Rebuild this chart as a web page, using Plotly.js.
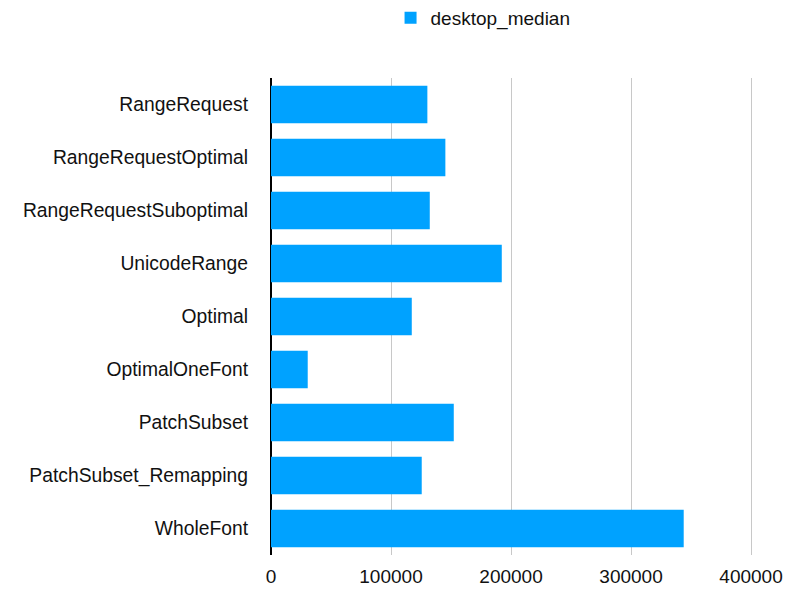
<!DOCTYPE html>
<html><head><meta charset="utf-8">
<script src="https://cdn.plot.ly/plotly-3.0.1.min.js"></script>
<style>html,body{margin:0;padding:0;background:#fff}#chart{width:789px;height:590px}</style>
</head><body><div id="chart"></div>
<script>
const categories = ["RangeRequest","RangeRequestOptimal","RangeRequestSuboptimal","UnicodeRange","Optimal","OptimalOneFont","PatchSubset","PatchSubset_Remapping","WholeFont"];
const desktopMedian = [130300,145300,132300,192300,117300,30600,152300,125600,343900];
const xTickVals = [0,100000,200000,300000,400000];
const xTickText = ["0","100000","200000","300000","400000"];

const trace = {
  type:'bar', orientation:'h', name:'desktop_median',
  y: categories, x: desktopMedian,
  marker:{color:'#00a2ff'},
  showlegend:true
};
const layout = {
  width:789, height:590,
  margin:{l:271, r:10, t:78, b:35, autoexpand:false},
  paper_bgcolor:'#fff', plot_bgcolor:'#fff',
  font:{family:'Liberation Sans, Arial, sans-serif', size:19, color:'#111'},
  bargap:0.29,
  showlegend:true,
  legend:{orientation:'h', xref:'container', yref:'container', x:0.495, xanchor:'left', y:1-18/590, yanchor:'middle', font:{size:19}},
  xaxis:{range:[0,423300], tickvals:xTickVals, ticktext:xTickText, showgrid:true, gridcolor:'#c8c8c8', gridwidth:1,
         zeroline:true, zerolinecolor:'#000', zerolinewidth:2, showline:false, ticks:'', ticklabelstandoff:8, tickfont:{size:19}, fixedrange:true},
  yaxis:{autorange:'reversed', categoryorder:'array', categoryarray:categories, showgrid:false, zeroline:false, showline:false,
         ticks:'', ticklabelstandoff:22, tickfont:{size:19.3}}
};
Plotly.newPlot('chart',[trace],layout,{displayModeBar:false,staticPlot:true});
</script></body></html>
